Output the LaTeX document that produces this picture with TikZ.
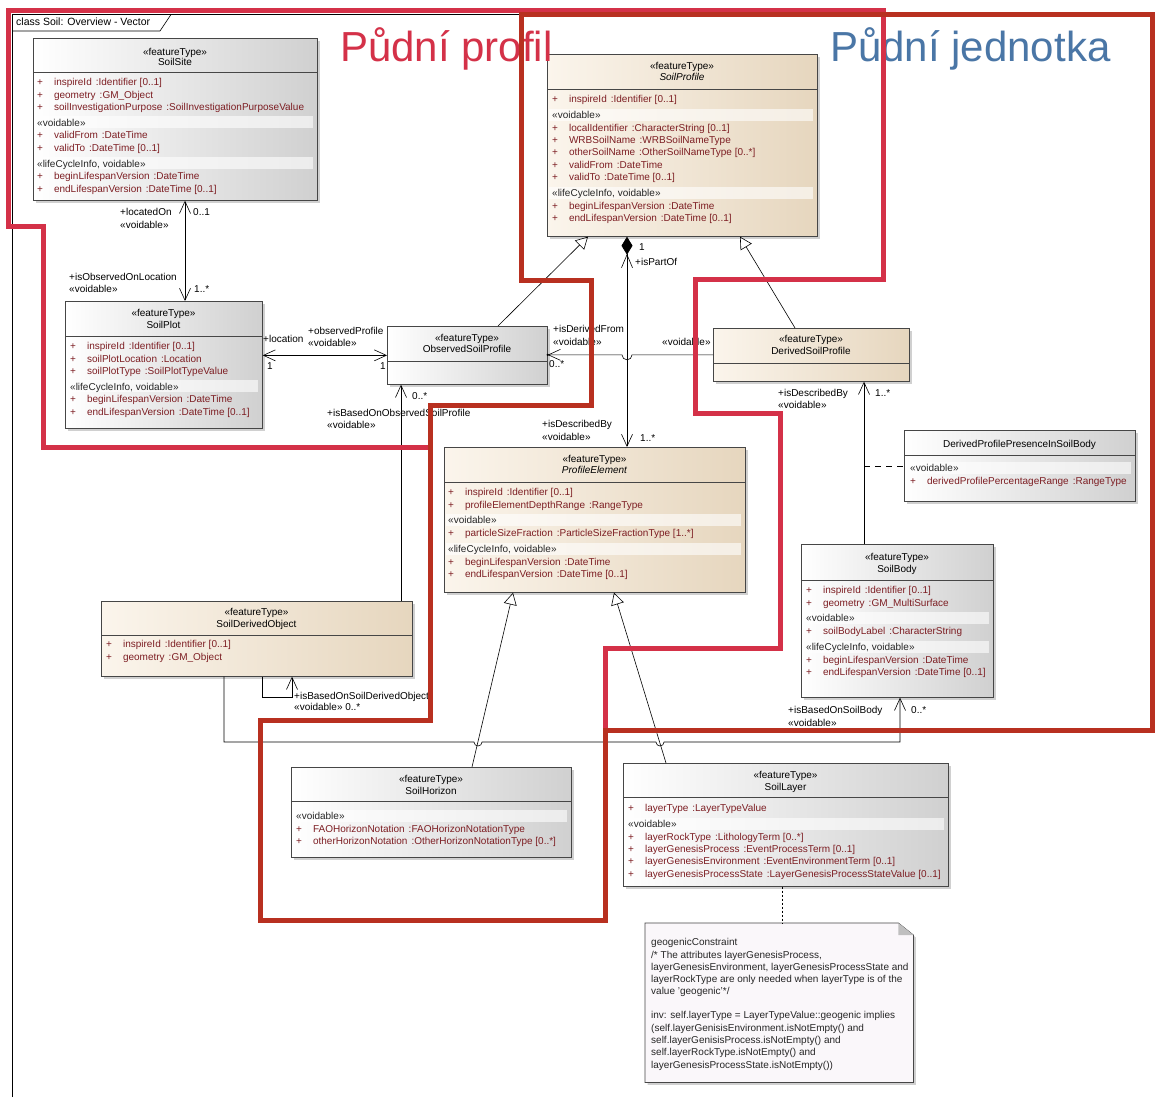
\documentclass[tikz,border=0pt]{standalone}
\usepackage{fontspec}
\setmainfont{Liberation Sans}
\usetikzlibrary{arrows.meta, calc, shadows}

\definecolor{boxline}{RGB}{70,70,70}
\definecolor{graybg}{RGB}{208,208,208}
\definecolor{beigelt}{RGB}{251,245,236}
\definecolor{beigedk}{RGB}{230,214,190}
\definecolor{attrred}{RGB}{125,30,35}
\definecolor{profred}{RGB}{212,49,72}
\definecolor{unitred}{RGB}{184,48,32}
\definecolor{unitblue}{RGB}{74,118,166}
\definecolor{notebg}{RGB}{250,247,250}

\newcommand{\uml}{\fontsize{10}{12.3}\selectfont}
\newcommand{\attrline}[2]{+\hspace{11pt}#1\hspace{4pt}:#2}
\newcommand{\grp}[1]{\\[3.5pt]\textcolor{black!85}{«#1»}\\[0.5pt]}

\tikzset{
  openv/.tip={Straight Barb[length=12pt, width=11pt]},
  hollow/.tip={Triangle[open, length=12pt, width=13pt]},
  comp/.tip={Diamond[length=18pt, width=11pt]},
  umlbox/.style={draw=boxline, line width=0.7pt, inner sep=0pt, anchor=north west,
    drop shadow={shadow xshift=2.5pt, shadow yshift=-2.5pt, fill=black!60, opacity=0.3}},
  graybox/.style={umlbox, left color=white, right color=graybg},
  beigebox/.style={umlbox, left color=beigelt, right color=beigedk},
  divline/.style={draw=boxline, line width=0.7pt},
  band/.style={fill=white, opacity=0.6},
  hdr/.style={anchor=base, inner sep=0pt, font=\uml},
  attrs/.style={anchor=north west, align=left, inner sep=0pt, font=\uml, text=attrred},
  role/.style={anchor=base west, inner sep=0pt, font=\uml},
  assoc/.style={line width=0.6pt},
  nav/.style={assoc, -openv},
  bothnav/.style={assoc, openv-openv},
  gen/.style={assoc, -hollow},
  notebox/.style={draw=boxline, line width=0.7pt, fill=notebg,
    drop shadow={shadow xshift=2.5pt, shadow yshift=-2.5pt, fill=black!60, opacity=0.3}},
  zone/.style={line width=5pt},
}

\begin{document}
\begin{tikzpicture}[x=1pt, y=-1pt]
  \useasboundingbox (0,0) rectangle (1155,1097);
  \fill[white] (0,0) rectangle (1155,1097);

  % diagram frame
  \draw[assoc] (12,1097) -- (12,14.5) -- (1155,14.5);
  \draw[assoc] (12,31) -- (160,31) -- (171,14.5);
  \node[role, font=\fontsize{10.5}{12}\selectfont] (frametab) at (16,26) {class Soil: Overview - Vector};

  % class boxes
  \node[graybox, minimum width=284, minimum height=162] (site) at (33,38) {};
  \node[beigebox, minimum width=270, minimum height=182] (profile) at (547,54) {};
  \node[graybox, minimum width=197, minimum height=127] (plot) at (65,301) {};
  \node[graybox, minimum width=160, minimum height=58] (obsprof) at (387,326) {};
  \node[beigebox, minimum width=196, minimum height=53] (derprof) at (713,328) {};
  \node[beigebox, minimum width=301, minimum height=145] (elem) at (444,447) {};
  \node[graybox, minimum width=231, minimum height=71] (presence) at (904,430) {};
  \node[graybox, minimum width=192, minimum height=153] (body) at (801,544) {};
  \node[beigebox, minimum width=311, minimum height=75] (derobj) at (101,601) {};
  \node[graybox, minimum width=280, minimum height=90] (horizon) at (291,767) {};
  \node[graybox, minimum width=325, minimum height=123] (layer) at (623,763) {};

  \foreach \n/\d in {site/34, profile/35, plot/35, obsprof/35, derprof/35, elem/35,
                     presence/25, body/36, derobj/34, horizon/34, layer/34}
    \draw[divline] ([yshift=-\d pt]\n.north west) -- ([yshift=-\d pt]\n.north east);

  % compartment bands
  \foreach \y/\xa/\xb in {122.4/35/313, 163.3/35/313, 114.8/549/813, 192.6/549/813,
                          386.4/67/258, 520.1/446/741, 548.7/446/741, 468/906/1131,
                          618.1/803/989, 646.7/803/989, 816/293/567, 823.8/625/944}
    \fill[band] (\xa,\y-6) rectangle (\xb,\y+6);

  % headers
  \node[hdr] (site-st) at (175,55.5) {«featureType»};
  \node[hdr] (site-nm) at (175,65.5) {SoilSite};
  \node[hdr] (profile-st) at (682,69.5) {«featureType»};
  \node[hdr, font=\uml\itshape] (profile-nm) at (682,80.5) {SoilProfile};
  \node[hdr] (plot-st) at (163.5,316.5) {«featureType»};
  \node[hdr] (plot-nm) at (163.5,328) {SoilPlot};
  \node[hdr] (obsprof-st) at (467,341.5) {«featureType»};
  \node[hdr] (obsprof-nm) at (467,352.5) {ObservedSoilProfile};
  \node[hdr] (derprof-st) at (811,342.5) {«featureType»};
  \node[hdr] (derprof-nm) at (811,354.5) {DerivedSoilProfile};
  \node[hdr] (elem-st) at (594.5,462.5) {«featureType»};
  \node[hdr, font=\uml\itshape] (elem-nm) at (594.5,473.5) {ProfileElement};
  \node[hdr] (presence-nm) at (1019.5,447.5) {DerivedProfilePresenceInSoilBody};
  \node[hdr] (body-st) at (897,560.5) {«featureType»};
  \node[hdr] (body-nm) at (897,572.5) {SoilBody};
  \node[hdr] (derobj-st) at (256.5,615.5) {«featureType»};
  \node[hdr] (derobj-nm) at (256.5,627.5) {SoilDerivedObject};
  \node[hdr] (horizon-st) at (431,782.5) {«featureType»};
  \node[hdr] (horizon-nm) at (431,794.5) {SoilHorizon};
  \node[hdr] (layer-st) at (785.5,778.5) {«featureType»};
  \node[hdr] (layer-nm) at (785.5,790.5) {SoilLayer};

  % attributes
  \node[attrs] (site-at) at (37,76.9) {\strut\attrline{inspireId}{Identifier [0..1]}\\
    \attrline{geometry}{GM\_Object}\\
    \attrline{soilInvestigationPurpose}{SoilInvestigationPurposeValue}
    \grp{voidable}
    \attrline{validFrom}{DateTime}\\
    \attrline{validTo}{DateTime [0..1]}
    \grp{lifeCycleInfo, voidable}
    \attrline{beginLifespanVersion}{DateTime}\\
    \attrline{endLifespanVersion}{DateTime [0..1]}};
  \node[attrs] (profile-at) at (552,93.9) {\strut\attrline{inspireId}{Identifier [0..1]}
    \grp{voidable}
    \attrline{localIdentifier}{CharacterString [0..1]}\\
    \attrline{WRBSoilName}{WRBSoilNameType}\\
    \attrline{otherSoilName}{OtherSoilNameType [0..*]}\\
    \attrline{validFrom}{DateTime}\\
    \attrline{validTo}{DateTime [0..1]}
    \grp{lifeCycleInfo, voidable}
    \attrline{beginLifespanVersion}{DateTime}\\
    \attrline{endLifespanVersion}{DateTime [0..1]}};
  \node[attrs] (plot-at) at (70,340.9) {\strut\attrline{inspireId}{Identifier [0..1]}\\
    \attrline{soilPlotLocation}{Location}\\
    \attrline{soilPlotType}{SoilPlotTypeValue}
    \grp{lifeCycleInfo, voidable}
    \attrline{beginLifespanVersion}{DateTime}\\
    \attrline{endLifespanVersion}{DateTime [0..1]}};
  \node[attrs] (elem-at) at (448,486.9) {\strut\attrline{inspireId}{Identifier [0..1]}\\
    \attrline{profileElementDepthRange}{RangeType}
    \grp{voidable}
    \attrline{particleSizeFraction}{ParticleSizeFractionType [1..*]}
    \grp{lifeCycleInfo, voidable}
    \attrline{beginLifespanVersion}{DateTime}\\
    \attrline{endLifespanVersion}{DateTime [0..1]}};
  \node[attrs] (presence-at) at (910,462.9) {\strut\textcolor{black!85}{«voidable»}\\[0.5pt]
    \attrline{derivedProfilePercentageRange}{RangeType}};
  \node[attrs] (body-at) at (806,584.9) {\strut\attrline{inspireId}{Identifier [0..1]}\\
    \attrline{geometry}{GM\_MultiSurface}
    \grp{voidable}
    \attrline{soilBodyLabel}{CharacterString}
    \grp{lifeCycleInfo, voidable}
    \attrline{beginLifespanVersion}{DateTime}\\
    \attrline{endLifespanVersion}{DateTime [0..1]}};
  \node[attrs] (derobj-at) at (106,638.9) {\strut\attrline{inspireId}{Identifier [0..1]}\\
    \attrline{geometry}{GM\_Object}};
  \node[attrs] (horizon-at) at (296,810.9) {\strut\textcolor{black!85}{«voidable»}\\[0.5pt]
    \attrline{FAOHorizonNotation}{FAOHorizonNotationType}\\
    \attrline{otherHorizonNotation}{OtherHorizonNotationType [0..*]}};
  \node[attrs] (layer-at) at (628,802.9) {\strut\attrline{layerType}{LayerTypeValue}
    \grp{voidable}
    \attrline{layerRockType}{LithologyTerm [0..*]}\\
    \attrline{layerGenesisProcess}{EventProcessTerm [0..1]}\\
    \attrline{layerGenesisEnvironment}{EventEnvironmentTerm [0..1]}\\
    \attrline{layerGenesisProcessState}{LayerGenesisProcessStateValue [0..1]}};

  % associations
  \draw[bothnav] (185,0 |- site.south) -- (185,0 |- plot.north);
  \draw[bothnav] (plot.east |- obsprof.west) -- (obsprof.west);
  \draw[assoc, openv-comp] (627,0 |- elem.north) -- (627,0 |- profile.south);
  \draw[assoc] ($(627,0 |- profile.south)+(-5.5,31)$) -- ++(5.5,-13) -- ++(5.5,13);
  \draw[nav] (derprof.west) -- (632,0 |- derprof.west)
    arc[start angle=0, end angle=180, radius=5] -- (obsprof.east |- derprof.west);
  \fill (obsprof.east |- derprof.west) circle[radius=1.3];
  \draw[nav] (401,0 |- derobj.north) -- (401,0 |- obsprof.south);
  \draw[nav] (864,0 |- body.north) -- (864,0 |- derprof.south);
  \draw[assoc, dash pattern=on 6pt off 5pt] (presence.west -| 864,0) -- (presence.west);
  \draw[nav] (262,0 |- derobj.south) -- (262,697) -- (292,697) -- (292,0 |- derobj.south);
  \draw[nav] (224,0 |- derobj.south) -- (224,742) -- (474,742)
    arc[start angle=180, end angle=0, radius=4] -- (656,742)
    arc[start angle=180, end angle=0, radius=4] -- (900,742) -- (900,0 |- body.south);

  % generalizations
  \draw[gen] (498,0 |- obsprof.north) -- (588,0 |- profile.south);
  \draw[gen] (795,0 |- derprof.north) -- (740,0 |- profile.south);
  \draw[gen] (472,0 |- horizon.north) -- (513,0 |- elem.south);
  \draw[gen] (666,0 |- layer.north) -- (614,0 |- elem.south);

  % role names and multiplicities
  \node[role] (locatedOn) at (120,215.6) {+locatedOn};
  \node[role] (locatedOn-v) at (120,228.6) {«voidable»};
  \node[role] (locatedOn-m) at (193,215.6) {0..1};
  \node[role] (obsLoc) at (69,280.6) {+isObservedOnLocation};
  \node[role] (obsLoc-v) at (69,292.6) {«voidable»};
  \node[role] (obsLoc-m) at (194,292.6) {1..*};
  \node[role] (location) at (263,342.6) {+location};
  \node[role] (location-m) at (267,369.6) {1};
  \node[role] (obsProf) at (308,334.6) {+observedProfile};
  \node[role] (obsProf-v) at (308,346.6) {«voidable»};
  \node[role] (obsProf-m) at (380,369.6) {1};
  \node[role] (partOf-m) at (639,250.6) {1};
  \node[role] (partOf) at (635,265.6) {+isPartOf};
  \node[role] (descBy) at (542,427.6) {+isDescribedBy};
  \node[role] (descBy-v) at (542,440.6) {«voidable»};
  \node[role] (descBy-m) at (640,441.6) {1..*};
  \node[role] (derFrom) at (553,332.6) {+isDerivedFrom};
  \node[role] (derFrom-v) at (553,345.6) {«voidable»};
  \node[role] (derFrom-m) at (549,367.6) {0..*};
  \node[role] (derFrom-v2) at (662,345.6) {«voidable»};
  \node[role] (basedObs-m) at (412,399.6) {0..*};
  \node[role] (basedObs) at (327,416.6) {+isBasedOnObservedSoilProfile};
  \node[role] (basedObs-v) at (327,428.6) {«voidable»};
  \node[role] (bodyDesc) at (778,396.6) {+isDescribedBy};
  \node[role] (bodyDesc-v) at (778,408.6) {«voidable»};
  \node[role] (bodyDesc-m) at (875,396.6) {1..*};
  \node[role] (basedDer) at (294,699.6) {+isBasedOnSoilDerivedObject};
  \node[role] (basedDer-v) at (294,710.6) {«voidable» 0..*};
  \node[role] (basedBody) at (788,713.6) {+isBasedOnSoilBody};
  \node[role] (basedBody-v) at (788,726.6) {«voidable»};
  \node[role] (basedBody-m) at (911,713.6) {0..*};

  % constraint note
  \node[minimum width=268, minimum height=159, inner sep=0pt, anchor=north west] (note) at (645,923) {};
  \draw[notebox] (note.north west) -- ([xshift=-15pt]note.north east) -- ([yshift=-12pt]note.north east)
    -- (note.south east) -- (note.south west) -- cycle;
  \fill[black!25] ([xshift=-15pt]note.north east) -- ([xshift=-15pt, yshift=-12pt]note.north east)
    -- ([yshift=-12pt]note.north east) -- cycle;
  \draw[assoc, dash pattern=on 2pt off 2pt] (782,0 |- layer.south) -- (782,0 |- note.north);
  \node[attrs, text=black!85] (note-txt) at (651,936.9) {\strut geogenicConstraint\\
    /* The attributes layerGenesisProcess,\\
    layerGenesisEnvironment, layerGenesisProcessState and\\
    layerRockType are only needed when layerType is of the\\
    value 'geogenic'*/\\[11.7pt]
    inv: self.layerType = LayerTypeValue::geogenic implies\\
    (self.layerGenisisEnvironment.isNotEmpty() and\\
    self.layerGenisisProcess.isNotEmpty() and\\
    self.layerRockType.isNotEmpty() and\\
    layerGenesisProcessState.isNotEmpty())};

  % titles
  \node[anchor=base west, inner sep=0pt, font=\fontsize{42}{42}\selectfont, text=profred] (title-profil) at (340,62) {Půdní profil};
  \node[anchor=base west, inner sep=0pt, font=\fontsize{42}{42}\selectfont, text=unitblue] (title-jednotka) at (830,62) {Půdní jednotka};

  % highlighted zones
  \draw[zone, profred] (8,10.5) -- (883,10.5) -- (883,279) -- (695,279) -- (695,413) -- (780,413)
    -- (780,648) -- (605,648) -- (605,920) -- (260,920) -- (260,720) -- (430,720) -- (430,447)
    -- (43,447) -- (43,226) -- (8,226) -- cycle;
  \draw[zone, unitred] (521,15) -- (1152,15) -- (1152,730) -- (605,730) -- (605,920) -- (260,920)
    -- (260,720) -- (430,720) -- (430,405) -- (591,405) -- (591,280) -- (521,280) -- cycle;
\end{tikzpicture}
\end{document}
